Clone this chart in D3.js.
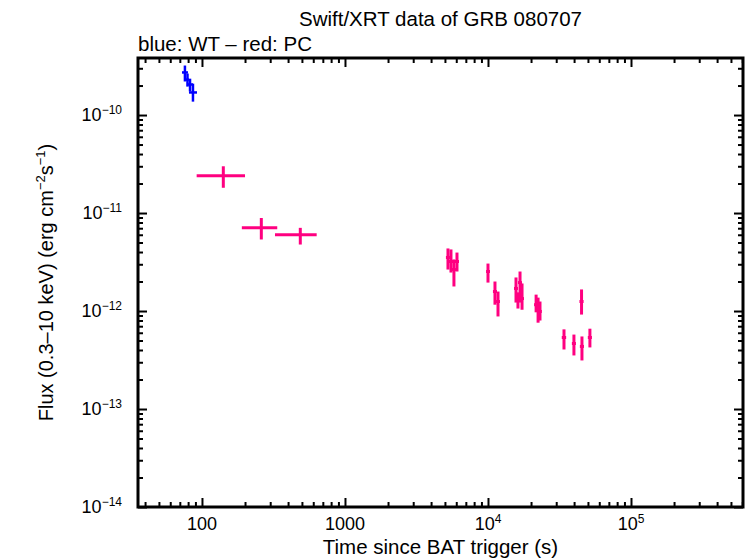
<!DOCTYPE html>
<html>
<head>
<meta charset="utf-8">
<script src="https://cdn.jsdelivr.net/npm/d3@7"></script>
<style>
  body { margin: 0; background: #fff; }
  svg { display: block; }
  text { font-family: "Liberation Sans", Arial, sans-serif; fill: #000; }
</style>
</head>
<body>
<div id="chart"></div>
<script>
// ---- data ----
const titleText = 'Swift/XRT data of GRB 080707';
const subtitleText = 'blue: WT \u2013 red: PC';
const xLabelText = 'Time since BAT trigger (s)';

const xDomain = [35.7, 6.07e5];
const yDomain = [1e-14, 3.82e-10];

const xTickValues = [100, 1000, 1e4, 1e5];
const xTickLabels = [['100', ''], ['1000', ''], ['10', '4'], ['10', '5']];
const yTickValues = [1e-14, 1e-13, 1e-12, 1e-11, 1e-10];
const yTickLabels = [['10', '\u221214'], ['10', '\u221213'], ['10', '\u221212'], ['10', '\u221211'], ['10', '\u221210']];

// [time, timeLo, timeHi, flux, fluxLo, fluxHi]
const wtPoints = [
  [76.0, 72.5, 79.8, 2.72e-10, 2.20e-10, 3.20e-10],
  [79.2, 77.3, 81.1, 2.30e-10, 1.95e-10, 2.65e-10],
  [82.5, 78.5, 86.5, 2.05e-10, 1.74e-10, 2.35e-10],
  [86.5, 81.1, 92.3, 1.70e-10, 1.37e-10, 2.09e-10]
];

const pcPoints = [
  [141, 91.8, 200, 2.40e-11, 1.81e-11, 3.00e-11],
  [260, 190, 336, 7.06e-12, 5.37e-12, 8.90e-12],
  [487, 324, 634, 6.00e-12, 4.77e-12, 7.06e-12],
  [5250, 5080, 5430, 3.52e-12, 2.65e-12, 4.35e-12],
  [5510, 5330, 5690, 3.20e-12, 2.47e-12, 4.25e-12],
  [5780, 5600, 5970, 2.65e-12, 1.78e-12, 3.36e-12],
  [6070, 5870, 6270, 3.20e-12, 2.53e-12, 3.95e-12],
  [10000, 9700, 10330, 2.53e-12, 1.95e-12, 3.05e-12],
  [11190, 10830, 11560, 1.58e-12, 1.16e-12, 2.00e-12],
  [11750, 11380, 12130, 1.25e-12, 8.80e-13, 1.58e-12],
  [15700, 15200, 16200, 1.70e-12, 1.22e-12, 2.20e-12],
  [16200, 15700, 16700, 1.31e-12, 1.06e-12, 1.55e-12],
  [16750, 16200, 17300, 1.95e-12, 1.22e-12, 2.53e-12],
  [17300, 16750, 17850, 1.34e-12, 1.03e-12, 1.91e-12],
  [21700, 21000, 22400, 1.16e-12, 9.70e-13, 1.47e-12],
  [22400, 21700, 23100, 1.04e-12, 7.60e-13, 1.37e-12],
  [23100, 22400, 23800, 9.90e-13, 8.00e-13, 1.25e-12],
  [34000, 32800, 35200, 5.37e-13, 4.05e-13, 6.50e-13],
  [39900, 38600, 41200, 4.66e-13, 3.52e-13, 5.75e-13],
  [45400, 43900, 46900, 4.35e-13, 3.13e-13, 5.50e-13],
  [51600, 49900, 53300, 5.37e-13, 4.25e-13, 6.60e-13],
  [45100, 43600, 46600, 1.25e-12, 9.20e-13, 1.66e-12]
];

const wtColor = '#0000ff';
const pcColor = '#ff0080';

// ---- layout ----
const W = 746, H = 558;
const margin = { top: 58, right: 3, bottom: 51, left: 138 };
const plotW = W - margin.left - margin.right;
const plotH = H - margin.top - margin.bottom;

const svg = d3.select('#chart').append('svg')
  .attr('width', W)
  .attr('height', H);

const x = d3.scaleLog().domain(xDomain).range([0, plotW]);
const y = d3.scaleLog().domain(yDomain).range([plotH, 0]);

const g = svg.append('g')
  .attr('transform', `translate(${margin.left},${margin.top})`);

svg.append('defs').append('clipPath').attr('id', 'clip')
  .append('rect').attr('width', plotW).attr('height', plotH);

// minor + major ticks, all pointing inward
const xMinor = x.ticks().filter(v => !xTickValues.includes(v));
const yMinor = y.ticks().filter(v => !yTickValues.includes(v));

function drawTicks(axisFn, values, size, transform) {
  const a = g.append('g')
    .attr('transform', transform)
    .call(axisFn.tickValues(values).tickSize(-size).tickFormat(''));
  a.select('.domain').remove();
  a.selectAll('line').attr('stroke', '#000').attr('stroke-width', 2);
}

drawTicks(d3.axisBottom(x), xMinor, 5, `translate(0,${plotH})`);
drawTicks(d3.axisBottom(x), xTickValues, 9, `translate(0,${plotH})`);
drawTicks(d3.axisTop(x), xMinor, 5, 'translate(0,0)');
drawTicks(d3.axisTop(x), xTickValues, 9, 'translate(0,0)');
drawTicks(d3.axisLeft(y), yMinor, 5, 'translate(0,0)');
drawTicks(d3.axisLeft(y), yTickValues, 9, 'translate(0,0)');
drawTicks(d3.axisRight(y), yMinor, 5, `translate(${plotW},0)`);
drawTicks(d3.axisRight(y), yTickValues, 9, `translate(${plotW},0)`);

// frame
g.append('rect')
  .attr('width', plotW)
  .attr('height', plotH)
  .attr('fill', 'none')
  .attr('stroke', '#000')
  .attr('stroke-width', 3);

// tick labels
const xl = g.append('g').selectAll('text')
  .data(xTickValues)
  .join('text')
  .attr('x', d => x(d))
  .attr('y', plotH + 23)
  .attr('text-anchor', 'middle')
  .attr('font-size', '18px');
xl.each(function(d, i) {
  const t = d3.select(this);
  t.append('tspan').text(xTickLabels[i][0]);
  if (xTickLabels[i][1]) t.append('tspan').attr('font-size', '12px').attr('dy', -7).text(xTickLabels[i][1]);
});

const yl = g.append('g').selectAll('text')
  .data(yTickValues)
  .join('text')
  .attr('x', -16)
  .attr('y', d => y(d) + 6)
  .attr('text-anchor', 'end')
  .attr('font-size', '18px');
yl.each(function(d, i) {
  const t = d3.select(this);
  t.append('tspan').text(yTickLabels[i][0]);
  t.append('tspan').attr('font-size', '12px').attr('dy', -7).text(yTickLabels[i][1]);
});

// titles
svg.append('text')
  .attr('x', margin.left + plotW / 2)
  .attr('y', 26)
  .attr('text-anchor', 'middle')
  .attr('font-size', '20.5px')
  .text(titleText);

svg.append('text')
  .attr('x', margin.left)
  .attr('y', 51)
  .attr('font-size', '20.5px')
  .text(subtitleText);

svg.append('text')
  .attr('x', margin.left + plotW / 2)
  .attr('y', H - 4)
  .attr('text-anchor', 'middle')
  .attr('font-size', '20.5px')
  .text(xLabelText);

const yLab = svg.append('text')
  .attr('transform', `translate(53,${margin.top + plotH / 2}) rotate(-90)`)
  .attr('text-anchor', 'middle')
  .attr('font-size', '20px');
yLab.append('tspan').text('Flux (0.3\u201310 keV) (erg cm');
yLab.append('tspan').attr('font-size', '13px').attr('dy', -8).text('\u22122');
yLab.append('tspan').attr('dy', 8).text('s');
yLab.append('tspan').attr('font-size', '13px').attr('dy', -8).text('\u22121');
yLab.append('tspan').attr('dy', 8).text(')');

// error bars
function drawSeries(points, color, width) {
  const s = g.append('g').attr('clip-path', 'url(#clip)');
  s.selectAll('.xerr').data(points).join('line')
    .attr('class', 'xerr')
    .attr('x1', d => x(d[1])).attr('x2', d => x(d[2]))
    .attr('y1', d => y(d[3])).attr('y2', d => y(d[3]))
    .attr('stroke', color).attr('stroke-width', width);
  s.selectAll('.yerr').data(points).join('line')
    .attr('class', 'yerr')
    .attr('x1', d => x(d[0])).attr('x2', d => x(d[0]))
    .attr('y1', d => y(d[4])).attr('y2', d => y(d[5]))
    .attr('stroke', color).attr('stroke-width', width);
}

drawSeries(pcPoints, pcColor, 3);
drawSeries(wtPoints, wtColor, 2.5);
</script>
</body>
</html>
